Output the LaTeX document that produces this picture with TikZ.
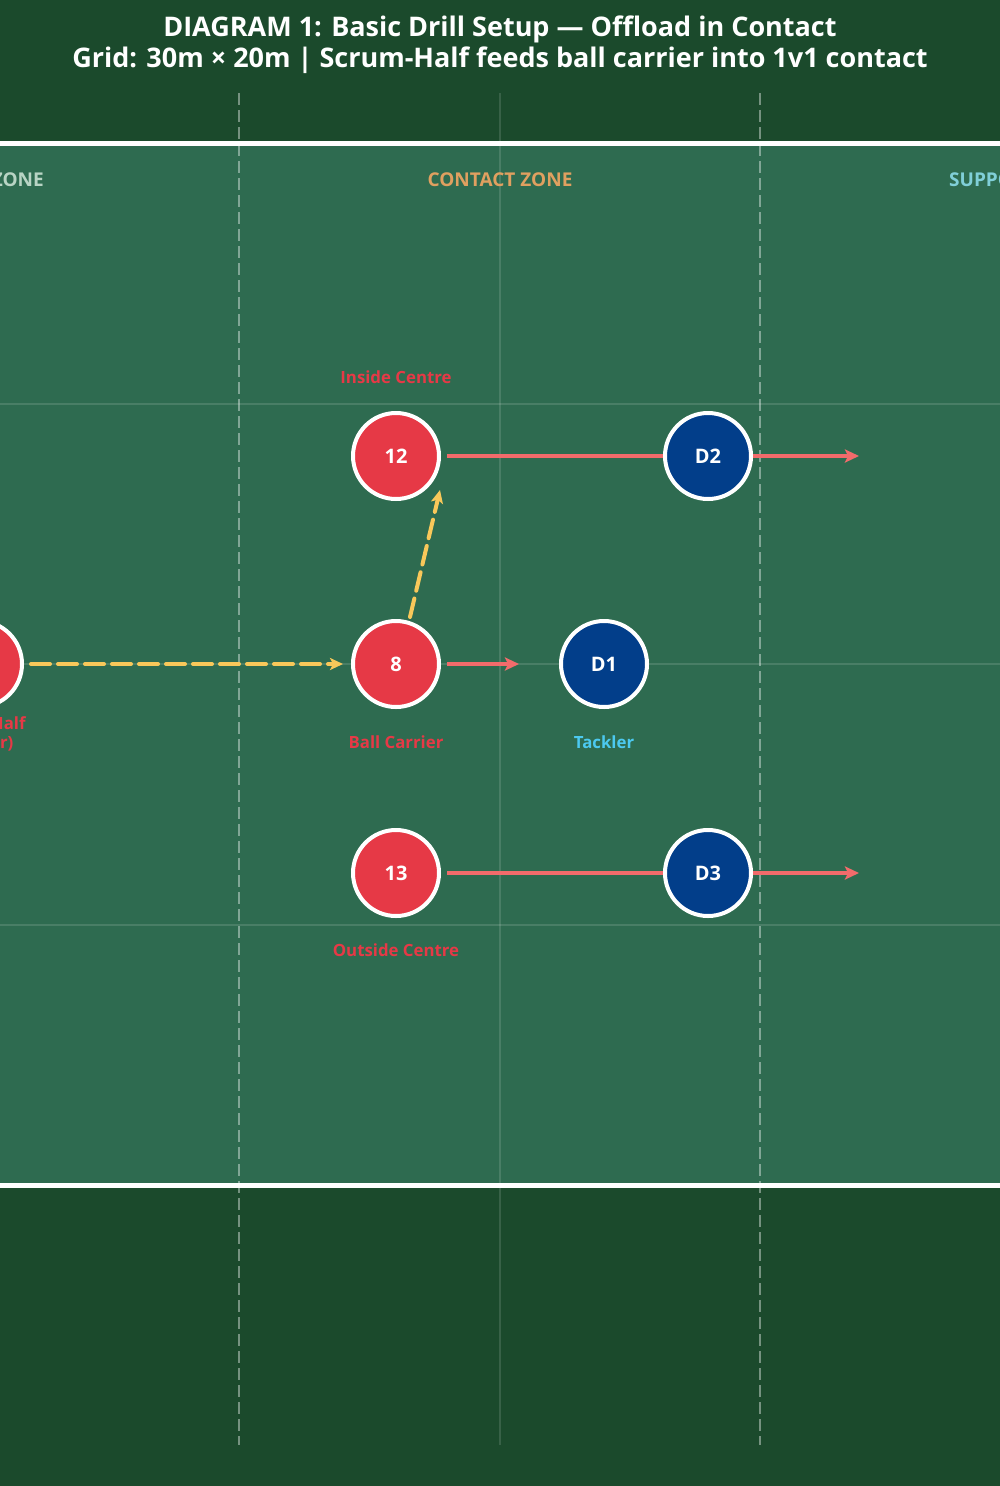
\documentclass[tikz,border=0pt]{standalone}
\usepackage{fontspec}
\setmainfont{Open Sans}
\usetikzlibrary{arrows.meta,calc}
\definecolor{bgdark}{HTML}{1B4A2C}
\definecolor{field}{HTML}{2E6B50}
\definecolor{atk}{HTML}{E63946}
\definecolor{def}{HTML}{023E8A}
\definecolor{runc}{HTML}{F26B6B}
\definecolor{passc}{HTML}{F9C85A}
\definecolor{contactc}{HTML}{E0A060}
\definecolor{supportc}{HTML}{80CFD8}
\definecolor{setupc}{HTML}{B8D4C4}
\definecolor{tacklec}{HTML}{4CC9F0}
\tikzset{
  x=1pt, y=-1pt,
  player/.style={circle, draw=white, line width=4pt, minimum size=86pt, inner sep=0pt, text=white, font=\bfseries\fontsize{20}{24}\selectfont},
  attacker/.style={player, fill=atk},
  defender/.style={player, fill=def},
  plabel/.style={font=\bfseries\fontsize{16.8}{20}\selectfont, inner sep=0pt},
  zonelabel/.style={font=\bfseries\fontsize{19}{22}\selectfont, inner sep=0pt},
  gridline/.style={white, opacity=0.13, line width=1.5pt},
  zoneline/.style={white, opacity=0.4, line width=2.7pt, dash pattern=on 12pt off 5pt},
  runarrow/.style={runc, line width=4pt, -{Stealth[length=14pt,width=13pt,inset=3pt]}},
  passarrow/.style={passc, line width=4pt, line cap=round, dash pattern=on 19pt off 8pt, -{Stealth[length=13pt,width=12pt,inset=3pt,line cap=butt]}},
}
\begin{document}
\begin{tikzpicture}
\useasboundingbox (0,0) rectangle (1000,1486);
\clip (0,0) rectangle (1000,1486);
\fill[bgdark] (0,0) rectangle (1000,1486);
\fill[field] (0,144) rectangle (1000,1185);
% grid
\draw[gridline] (0,404) -- (1000,404);
\draw[gridline] (0,664) -- (1000,664);
\draw[gridline] (0,925) -- (1000,925);
\draw[gridline] (500,93) -- (500,1445);
% zone lines
\draw[zoneline] (239,93) -- (239,1445);
\draw[zoneline] (760,93) -- (760,1445);
% field boundaries
\draw[white, line width=5pt] (0,143.5) -- (1000,143.5);
\draw[white, line width=5pt] (0,1185) -- (1000,1185);
% title
\node[font=\bfseries\fontsize{27}{31}\selectfont, text=white, anchor=base] (t1) at (500,36) {DIAGRAM 1: Basic Drill Setup — Offload in Contact};
\node[font=\bfseries\fontsize{27}{31}\selectfont, text=white, anchor=base] (t2) at (500,67) {Grid: 30m × 20m | Scrum-Half feeds ball carrier into 1v1 contact};
% zone labels
\node[zonelabel, text=setupc, anchor=base east] (z1) at (44,186) {ZONE};
\node[zonelabel, text=contactc, anchor=base] (z2) at (500,186) {CONTACT ZONE};
\node[zonelabel, text=supportc, anchor=base west] (z3) at (949,186) {SUPPORT ZONE};
% coordinates for run ends
\coordinate (e8) at (519,664);
\coordinate (e12) at (859,456);
\coordinate (e13) at (859,873);
% players
\node[attacker] (sh) at (-21,664) {9};
\node[attacker] (p8) at (396,664) {8};
\node[attacker] (p12) at (396,456) {12};
\node[attacker] (p13) at (396,873) {13};
% runs (under defenders)
\draw[runarrow] ([xshift=6pt]p12.east) -- (e12);
\draw[runarrow] ([xshift=6pt]p13.east) -- (e13);
\draw[runarrow] ([xshift=6pt]p8.east) -- (e8);
\node[defender] (d1) at (604,664) {D1};
\node[defender] (d2) at (708,456) {D2};
\node[defender] (d3) at (708,873) {D3};
% passes
\draw[passarrow] ([xshift=7pt]sh.east) -- ([xshift=-8pt]p8.west);
\draw[passarrow] ($(p8)+(14,-47)$) -- ($(p12)+(44,34)$);
% labels
\node[plabel, text=atk, anchor=base] (l12) at (396,383) {Inside Centre};
\node[plabel, text=atk, anchor=base] (l8) at (396,748) {Ball Carrier};
\node[plabel, text=tacklec, anchor=base] (l1) at (604,748) {Tackler};
\node[plabel, text=atk, anchor=base] (l13) at (396,956) {Outside Centre};
\node[plabel, text=atk, anchor=base] (lsh1) at (-21,729) {Scrum-Half};
\node[plabel, text=atk, anchor=base] (lsh2) at (-21,748) {(Feeder)};
\end{tikzpicture}
\end{document}
